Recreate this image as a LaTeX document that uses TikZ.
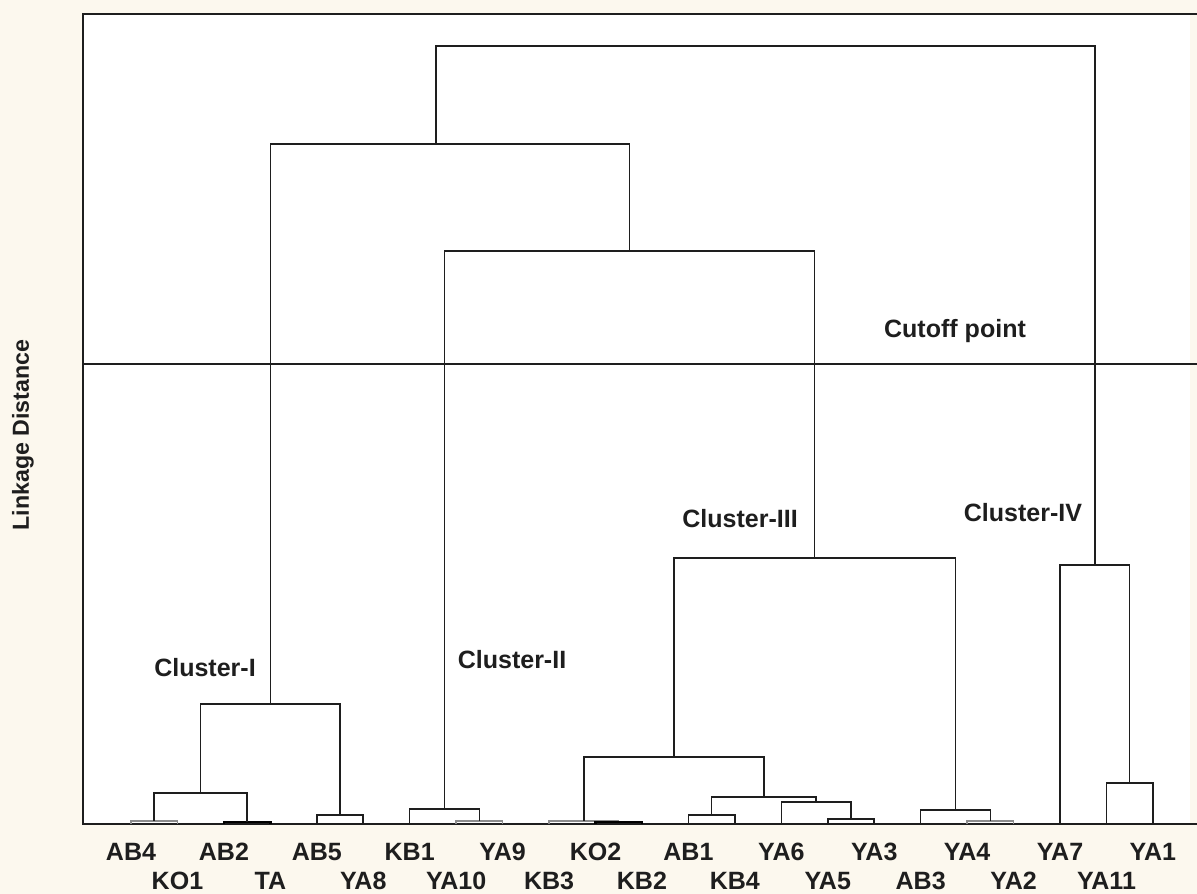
\documentclass[tikz,border=0pt]{standalone}
\usepackage{fontspec}
\setmainfont{Liberation Sans}
\definecolor{cream}{RGB}{252,248,238}
\definecolor{ink}{RGB}{30,30,30}
\begin{document}
\begin{tikzpicture}[x=0.25mm,y=-0.25mm,
  link/.style={line width=0.38mm,draw=ink},
  thin link/.style={line width=0.38mm,draw=black!45},
  thick link/.style={line width=0.6mm,draw=black},
  frame/.style={line width=0.35mm,draw=ink},
  leaflbl/.style={font=\fontsize{17.8}{20}\selectfont\bfseries,anchor=base,inner sep=0pt,text=ink},
  clbl/.style={font=\fontsize{17.8}{20}\selectfont\bfseries,anchor=base,inner sep=0pt,text=ink}]
\useasboundingbox (0,0) rectangle (1197,894);
\fill[cream] (0,0) rectangle (1197,894);
\fill[white] (83,14) rectangle (1190,824);
% frame
\coordinate (tl) at (83,14);
\coordinate (tr) at (1197,14);
\coordinate (bl) at (83,824);
\coordinate (br) at (1197,824);
\coordinate (cl) at (83,364);
\coordinate (cr) at (1197,364);
\draw[frame] (tr) -- (tl) -- (bl) -- (br);
\draw[line width=0.28mm,draw=ink] (cl) -- (cr);
% leaves
\foreach \n/\i in {AB4/0,KO1/1,AB2/2,TA/3,AB5/4,YA8/5,KB1/6,YA10/7,YA9/8,KB3/9,KO2/10,KB2/11,AB1/12,KB4/13,YA6/14,YA5/15,YA3/16,AB3/17,YA4/18,YA2/19,YA7/20,YA11/21,YA1/22}{
  \coordinate (\n) at ({131+46.45*\i},824);
}
% leaf labels
\foreach \n/\i in {AB4/0,AB2/2,AB5/4,KB1/6,YA9/8,KO2/10,AB1/12,YA6/14,YA3/16,YA4/18,YA7/20,YA1/22}{
  \node[leaflbl] (t\n) at ({131+46.45*\i},860) {\n};
}
\foreach \n/\i in {KO1/1,TA/3,YA8/5,YA10/7,KB3/9,KB2/11,KB4/13,YA5/15,AB3/17,YA2/19,YA11/21}{
  \node[leaflbl] (t\n) at ({131+46.45*\i},889) {\n};
}
% internal nodes
\coordinate (n1) at (154.2,821);
\coordinate (n2) at (247.1,822);
\coordinate (n3) at (200.7,793);
\coordinate (n4) at (340.0,815);
\coordinate (c1) at (270.3,704);
\coordinate (n5) at (479.4,821);
\coordinate (c2) at (444.5,809);
\coordinate (n6) at (618.7,822);
\coordinate (n7) at (583.9,821);
\coordinate (n8) at (711.6,815);
\coordinate (n9) at (851.0,819);
\coordinate (n10) at (816.1,802);
\coordinate (n11) at (763.9,797);
\coordinate (n12) at (673.9,757);
\coordinate (n13) at (990.3,821);
\coordinate (n14) at (955.5,810);
\coordinate (c3) at (814.7,558);
\coordinate (n15) at (1129.7,783);
\coordinate (c4) at (1094.8,565);
\coordinate (m1) at (629.6,251);
\coordinate (m2) at (436.0,144);
\coordinate (root) at (765.4,46);
% links
\draw[thin link] (n1) -| (AB4); \draw[thin link] (n1) -| (KO1);
\draw[thick link] (n2) -| (AB2); \draw[thick link] (n2) -| (TA);
\draw[link] (n3) -| (n1); \draw[link] (n3) -| (n2);
\draw[link] (n4) -| (AB5); \draw[link] (n4) -| (YA8);
\draw[link] (c1) -| (n3); \draw[link] (c1) -| (n4);
\draw[thin link] (n5) -| (YA10); \draw[thin link] (n5) -| (YA9);
\draw[link] (c2) -| (KB1); \draw[link] (c2) -| (n5);
\draw[thin link] (n7) -| (KB3); \draw[thin link] (n7) -| (n6);
\draw[thick link] (n6) -| (KO2); \draw[thick link] (n6) -| (KB2);
\draw[link] (n8) -| (AB1); \draw[link] (n8) -| (KB4);
\draw[link] (n9) -| (YA5); \draw[link] (n9) -| (YA3);
\draw[link] (n10) -| (YA6); \draw[link] (n10) -| (n9);
\draw[link] (n11) -| (n8); \draw[link] (n11) -| (n10);
\draw[link] (n12) -| (n7); \draw[link] (n12) -| (n11);
\draw[thin link] (n13) -| (YA4); \draw[thin link] (n13) -| (YA2);
\draw[link] (n14) -| (AB3); \draw[link] (n14) -| (n13);
\draw[link] (c3) -| (n12); \draw[link] (c3) -| (n14);
\draw[link] (n15) -| (YA11); \draw[link] (n15) -| (YA1);
\draw[link] (c4) -| (YA7); \draw[link] (c4) -| (n15);
\draw[link] (m1) -| (c2); \draw[link] (m1) -| (c3);
\draw[link] (m2) -| (c1); \draw[link] (m2) -| (m1);
\draw[link] (root) -| (m2); \draw[link] (root) -| (c4);
% labels
\node[clbl] (cut) at (955,337) {Cutoff point};
\node[clbl] (cI) at (205,676) {Cluster-I};
\node[clbl] (cII) at (512,668) {Cluster-II};
\node[clbl] (cIII) at (740,527) {Cluster-III};
\node[clbl] (cIV) at (1023,521) {Cluster-IV};
\node[font=\fontsize{16.5}{18}\selectfont\bfseries,rotate=90,inner sep=0pt,text=ink] (ylab) at (23,435) {Linkage Distance};
\end{tikzpicture}
\end{document}
